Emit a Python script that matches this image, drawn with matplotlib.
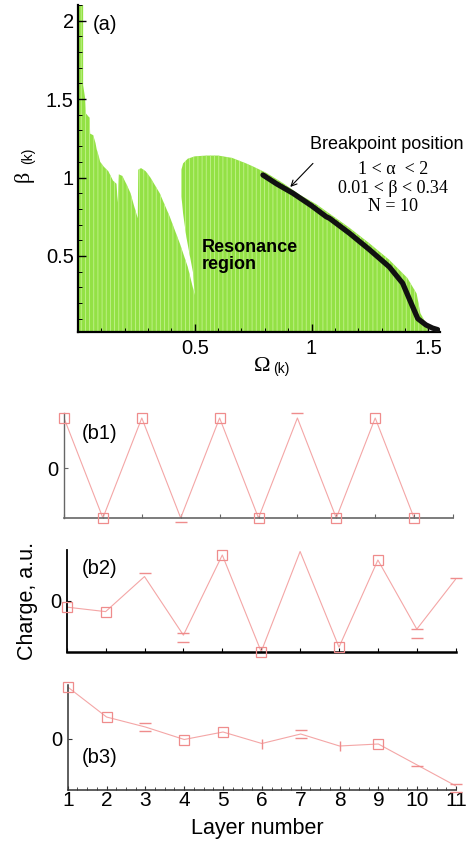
import matplotlib
matplotlib.use("Agg")
import matplotlib.pyplot as plt
from matplotlib.ticker import MultipleLocator, FixedLocator

plt.rcParams['font.family'] = ['Liberation Sans', 'DejaVu Sans']
plt.rcParams['hatch.linewidth'] = 0.6

# ---------------- data: panel (a) ----------------
# outline of the green resonance region (Omega, beta), traversed in order
region_omega = [0.0, 0.0, 0.022, 0.022, 0.03, 0.033, 0.05, 0.052, 0.065, 0.075,
                0.08, 0.09, 0.095, 0.11, 0.13, 0.15, 0.165, 0.17, 0.175, 0.19,
                0.21, 0.225, 0.24, 0.256, 0.258, 0.27, 0.29, 0.31, 0.35, 0.393,
                0.436, 0.47, 0.49, 0.5, 0.493, 0.479, 0.464, 0.45, 0.443, 0.443,
                0.45, 0.47, 0.5, 0.55, 0.6, 0.66, 0.72, 0.75, 0.806, 0.877,
                0.95, 1.02, 1.077, 1.162, 1.248, 1.333, 1.41, 1.45, 1.466, 1.49,
                1.504]
region_beta = [0.0, 2.1, 2.1, 1.59, 1.51, 1.41, 1.38, 1.28, 1.27, 1.22,
               1.18, 1.13, 1.10, 1.07, 1.04, 0.98, 0.96, 0.84, 1.02, 1.01,
               0.95, 0.90, 0.82, 0.74, 1.05, 1.06, 1.04, 1.0, 0.90, 0.75,
               0.58, 0.43, 0.31, 0.25, 0.39, 0.50, 0.62, 0.77, 0.88, 1.05,
               1.09, 1.12, 1.135, 1.14, 1.14, 1.125, 1.09, 1.07, 1.03, 0.965,
               0.89, 0.83, 0.77, 0.68, 0.58, 0.475, 0.36, 0.26, 0.135, 0.07,
               0.0]

# breakpoint positions (black markers)
bp_omega = [0.792, 0.85, 0.92, 1.0, 1.063, 1.077, 1.162, 1.248, 1.333, 1.39,
            1.426, 1.455, 1.49, 1.518, 1.54]
bp_beta = [1.016, 0.96, 0.90, 0.82, 0.75, 0.74, 0.645, 0.54, 0.43, 0.326,
           0.20, 0.10, 0.06, 0.04, 0.03]

# ---------------- data: panels (b) ----------------
layers = [1, 2, 3, 4, 5, 6, 7, 8, 9, 10, 11]

b1_values = [1.0, -1.0, 1.0, -1.0, 1.0, -1.0, 1.0, -1.0, 1.0, -1.0]
b1_square_layers = [1, 2, 3, 5, 6, 8, 9, 10]
b1_cap_layers = [4, 7]
b1_cap_values = [-1.08, 1.1]

b2_values = [-0.13, -0.22, 0.48, -0.69, 0.91, -1.02, 0.98, -0.93, 0.81, -0.57, 0.43]
b2_square_layers = [1, 2, 5, 6, 8, 9]
b2_cap_layers = [3, 4, 4, 10, 10, 11]
b2_cap_values = [0.55, -0.65, -0.83, -0.57, -0.75, 0.45]

b3_values = [1.03, 0.43, 0.23, -0.02, 0.13, -0.10, 0.09, -0.15, -0.11, -0.53, -0.95]
b3_square_layers = [1, 2, 4, 5, 9]
b3_cap_layers = [3, 3, 7, 7, 10, 11, 11]
b3_cap_values = [0.32, 0.15, 0.18, 0.02, -0.55, -0.91, -1.06]
b3_tick_layers = [6, 8]

W, H = 474, 846
fig = plt.figure(figsize=(W / 100, H / 100), dpi=100)


def fx(px):
    return px / W


def fy(py):
    return 1 - py / H


# ---------------- panel (a) ----------------
axa = fig.add_axes([fx(78), fy(332), fx(440) - fx(78), fy(5) - fy(332)])
axa.fill(region_omega, region_beta, facecolor='#93e145', edgecolor='#c4f28e',
         hatch='||||', linewidth=0, zorder=1)
axa.plot(bp_omega, bp_beta, color='#111111', lw=3.8, solid_capstyle='round',
         solid_joinstyle='round', zorder=3)
axa.set_xlim(0, 1.55)
axa.set_ylim(0.015, 2.1)
for s in ['top', 'right']:
    axa.spines[s].set_visible(False)
for s in ['left', 'bottom']:
    axa.spines[s].set_linewidth(1.6)
axa.xaxis.set_major_locator(FixedLocator([0.5, 1.0, 1.5]))
axa.xaxis.set_minor_locator(MultipleLocator(0.1))
axa.yaxis.set_major_locator(FixedLocator([0.5, 1.0, 1.5, 2.0]))
axa.yaxis.set_minor_locator(MultipleLocator(0.1))
axa.set_xticklabels(['0.5', '1', '1.5'])
axa.set_yticklabels(['0.5', '1', '1.5', '2'])
axa.tick_params(which='major', direction='in', length=6, width=1.0, labelsize=14.5, pad=3)
axa.tick_params(which='minor', direction='in', length=3, width=0.7)
axa.tick_params(axis='x', which='major', pad=5)

axa.text(0.53, 0.5, 'Resonance\nregion', fontsize=13, fontweight='bold',
         ha='left', va='center', linespacing=1.0, zorder=4)
axa.text(1.32, 1.21, 'Breakpoint position', fontsize=13, ha='center', va='center')
serif = ['Liberation Serif', 'DejaVu Serif']
axa.text(1.35, 1.048, '1 < \u03b1  < 2', fontsize=13, family=serif, ha='center', va='center')
axa.text(1.35, 0.931, '0.01 < \u03b2 < 0.34', fontsize=13, family=serif, ha='center', va='center')
axa.text(1.35, 0.814, 'N = 10', fontsize=13, family=serif, ha='center', va='center')
axa.annotate('', xy=(0.909, 0.94), xytext=(1.006, 1.09),
             arrowprops=dict(arrowstyle='->', color='black', lw=0.8,
                             shrinkA=0, shrinkB=0))

fig.text(fx(93), fy(25), '(a)', fontsize=14.5, ha='left', va='center')
# axis labels of (a)
fig.text(fx(262), fy(366), '\u03a9', fontsize=16, family=serif, ha='center', va='center')
fig.text(fx(281), fy(369), '(k)', fontsize=10, ha='center', va='center')
fig.text(fx(24), fy(176), '\u03b2', fontsize=16, family=serif, ha='center', va='center',
         rotation=90)
fig.text(fx(28), fy(156), '(k)', fontsize=10, ha='center', va='center', rotation=90)

# ---------------- panels (b) ----------------
line_col = '#f4a6a6'
mark_col = '#ef8c8c'


def draw_b(rect, values, sq_layers, cap_layers, cap_values, ylim, spine_col, spine_w,
           bottom_w, minor=False, labels=False, tick_layers=()):
    ax = fig.add_axes(rect)
    xs = layers[:len(values)]
    ax.plot(xs, values, color=line_col, lw=0.8, zorder=2)
    sq_vals = [values[l - 1] for l in sq_layers]
    ax.plot(sq_layers, sq_vals, ls='none', marker='s', ms=7, mfc='none', mec=mark_col,
            mew=0.9, clip_on=False, zorder=3)
    ax.plot(cap_layers, cap_values, ls='none', marker='_', ms=8, mec=mark_col,
            mew=1.0, clip_on=False, zorder=3)
    if tick_layers:
        tv = [values[l - 1] for l in tick_layers]
        ax.plot(list(tick_layers), tv, ls='none', marker='|', ms=7, mec=mark_col,
                mew=1.0, clip_on=False, zorder=3)
    ax.set_xlim(1, 11)
    ax.set_ylim(*ylim)
    for s in ['top', 'right']:
        ax.spines[s].set_visible(False)
    ax.spines['left'].set_color(spine_col)
    ax.spines['bottom'].set_color(spine_col)
    ax.spines['left'].set_linewidth(spine_w)
    ax.spines['bottom'].set_linewidth(bottom_w)
    ax.set_xticks(layers)
    ax.set_yticks([0])
    ax.set_yticklabels(['0'])
    ax.tick_params(axis='y', direction='in', length=3, width=0.8, labelsize=14.5, pad=4,
                   colors=spine_col, labelcolor='black')
    ax.tick_params(axis='x', direction='in', length=3, width=0.8, colors=spine_col,
                   labelcolor='black')
    if minor:
        ax.xaxis.set_minor_locator(MultipleLocator(0.25))
        ax.tick_params(axis='x', which='minor', direction='in', length=2, width=0.6,
                       colors=spine_col)
    if labels:
        ax.set_xticklabels([str(l) for l in layers])
        ax.tick_params(axis='x', labelsize=15, pad=1)
    else:
        ax.set_xticklabels([])
    return ax


draw_b([fx(64), fy(518), fx(453) - fx(64), fy(413) - fy(518)], b1_values,
       b1_square_layers, b1_cap_layers, b1_cap_values, (-1.0, 1.1), '#666666', 1.0, 1.2)
draw_b([fx(66.7), fy(651.7), fx(455.7) - fx(66.7), fy(550) - fy(651.7)], b2_values,
       b2_square_layers, b2_cap_layers, b2_cap_values, (-1.02, 1.01), '#000000', 1.3, 1.8)
draw_b([fx(67.7), fy(790), fx(456) - fx(67.7), fy(685) - fy(790)], b3_values,
       b3_square_layers, b3_cap_layers, b3_cap_values, (-1.03, 1.07), '#333333', 1.1, 1.1,
       minor=True, labels=True, tick_layers=b3_tick_layers)

fig.text(fx(82), fy(433), '(b1)', fontsize=14.5, ha='left', va='center')
fig.text(fx(82), fy(568), '(b2)', fontsize=14.5, ha='left', va='center')
fig.text(fx(82), fy(757), '(b3)', fontsize=14.5, ha='left', va='center')
fig.text(fx(28), fy(601), 'Charge, a.u.', fontsize=15.5, rotation=90, ha='center', va='center')
fig.text(fx(257), fy(828), 'Layer number', fontsize=15.5, ha='center', va='center')

fig.savefig('out.png', dpi=100)
